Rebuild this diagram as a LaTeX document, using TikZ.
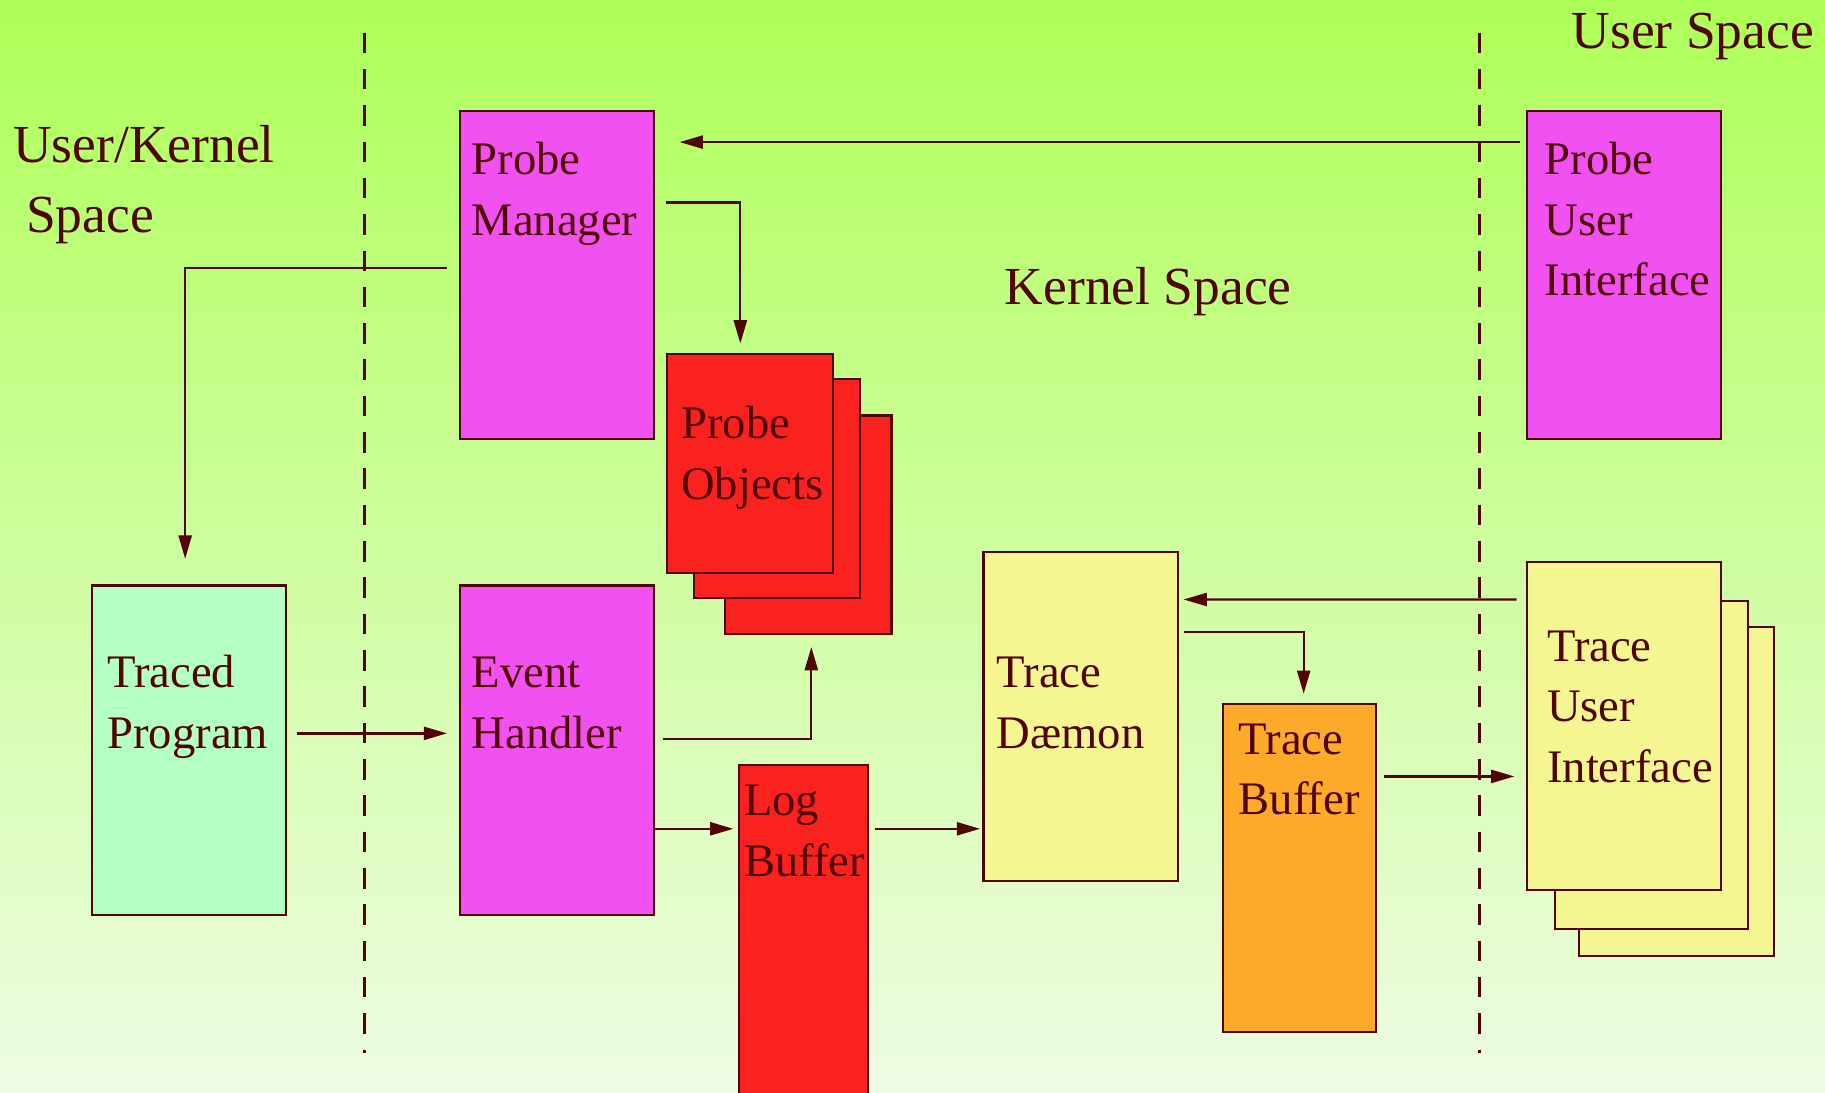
\documentclass[tikz,border=0pt]{standalone}
\usepackage{fontspec}
\setmainfont{Liberation Serif}
\usetikzlibrary{arrows.meta,calc,fit}
\definecolor{ink}{RGB}{80,4,4}
\definecolor{mag}{RGB}{241,81,241}
\definecolor{redb}{RGB}{250,34,30}
\definecolor{yel}{RGB}{245,245,145}
\definecolor{ora}{RGB}{253,170,42}
\definecolor{mint}{RGB}{180,255,196}
\definecolor{bgtop}{RGB}{174,255,88}
\definecolor{bgbot}{RGB}{238,252,228}
\tikzset{
  box/.style={draw=ink, line width=1.3pt, inner sep=0pt},
  txt/.style={text=ink, font=\fontsize{28.5}{37}\selectfont, align=left, inner sep=0pt, anchor=base west},
  lbl/.style={text=ink, font=\fontsize{32.7}{42.7}\selectfont, align=left, inner sep=0pt, anchor=base west},
  arr/.style={draw=ink, line width=1.4pt, -{Triangle[length=0.5cm,width=0.28cm]}},
  sep/.style={draw=ink, line width=2.1pt, dash pattern=on 0.44cm off 0.34cm}
}
\begin{document}
\begin{tikzpicture}[x=0.025cm,y=-0.025cm]
\shade[top color=bgtop, bottom color=bgbot] (0,0) rectangle (1568,939);
\useasboundingbox (0,0) rectangle (1568,939);
% separators
\draw[sep] (313,28) -- (313,905);
\draw[sep] (1271,28) -- (1271,905);
% labels (anchor = baseline of last line)
\node[lbl] (luk) at (11,200) {User/Kernel\\\hspace*{0.28cm}Space};
\node[lbl] (lus) at (1350,42) {User Space};
\node[lbl] (lks) at (863,262) {Kernel Space};
% boxes
\node[box, fill=mag, fit={(395,95) (562,377)}] (pm) {};
\node[txt] (pmt) at (405,202) {Probe\\Manager};
\node[box, fill=mag, fit={(1312,95) (1479,377)}] (pui) {};
\node[txt] (puit) at (1327,254) {Probe\\User\\Interface};
\node[box, fill=redb, fit={(623,357) (766,545)}] (po3) {};
\node[box, fill=redb, fit={(596,326) (739,514)}] (po2) {};
\node[box, fill=redb, fit={(573,304) (716,492)}] (po1) {};
\node[txt] (pot) at (585,429) {Probe\\Objects};
\node[box, fill=mint, fit={(79,503) (246,786)}] (tp) {};
\node[txt] (tpt) at (92,643) {Traced\\Program};
\node[box, fill=mag, fit={(395,503) (562,786)}] (eh) {};
\node[txt] (eht) at (405,643) {Event\\Handler};
\node[box, fill=redb, fit={(635,657) (746,948)}] (lb) {};
\node[txt] (lbt) at (639,753) {Log\\Buffer};
\node[box, fill=yel, fit={(845,474) (1012,757)}] (td) {};
\node[txt] (tdt) at (856,643) {Trace\\Dæmon};
\node[box, fill=ora, fit={(1051,605) (1182,887)}] (tb) {};
\node[txt] (tbt) at (1064,700) {Trace\\Buffer};
\node[box, fill=yel, fit={(1357,539) (1524,821)}] (tui3) {};
\node[box, fill=yel, fit={(1336,516) (1502,798)}] (tui2) {};
\node[box, fill=yel, fit={(1312,483) (1479,765)}] (tui1) {};
\node[txt] (tuit) at (1329,672) {Trace\\User\\Interface};
% connectors
\draw[arr] ($(pui.north west)+(-5,28)$) -- ($(pm.north east)+(21,28)$);
\draw[arr] ($(pm.north east)+(9,80)$) -| ($(po1.north west)+(64,-8)$);
\draw[arr] ($(pm.north west)+(-10,136)$) -| ($(tp.north west)+(81,-22)$);
\draw[arr] ($(tp.north east)+(8,128)$) -- ($(eh.north west)+(-10,128)$);
\draw[arr] ($(eh.north east)+(7,133)$) -| ($(po3.south west)+(75,10)$);
\draw[arr] ($(eh.north east)+(0,210)$) -- ($(lb.north west)+(-4,56)$);
\draw[arr] ($(lb.north east)+(5,56)$) -- ($(td.north west)+(-2,239)$);
\draw[arr] ($(tui1.north west)+(-8,33)$) -- ($(td.north east)+(4,42)$);
\draw[arr] ($(td.north east)+(4,70)$) -| ($(tb.north west)+(70,-8)$);
\draw[arr] ($(tb.north east)+(6,63)$) -- ($(tui1.north west)+(-10,185)$);
\end{tikzpicture}
\end{document}
